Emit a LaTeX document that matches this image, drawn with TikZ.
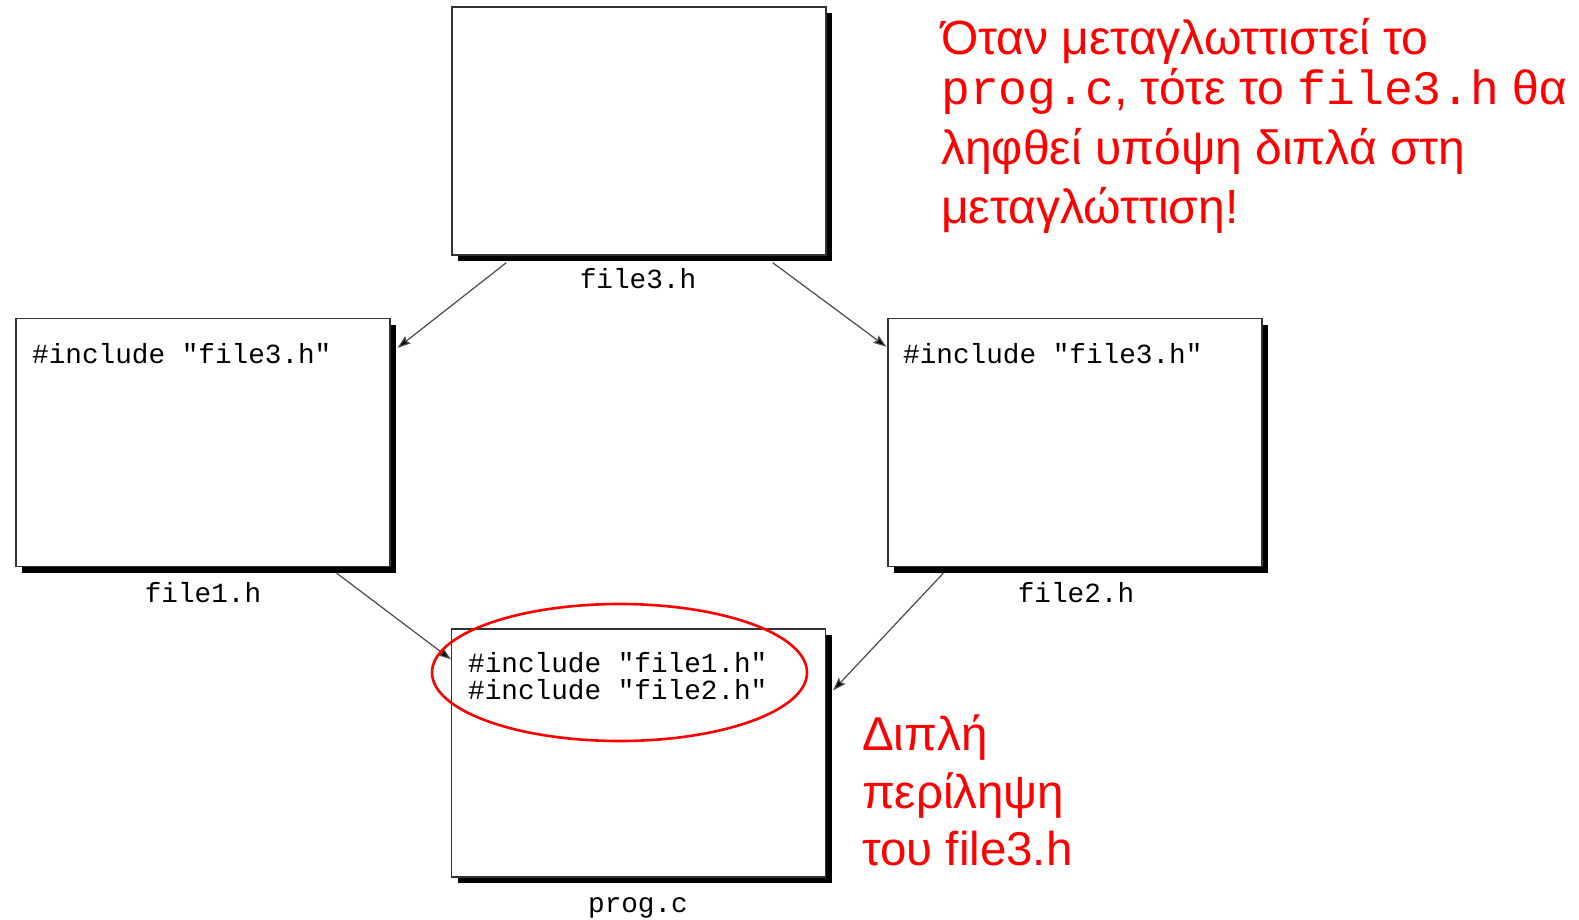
\documentclass[tikz,border=0pt]{standalone}
\usepackage{fontspec}
\setmainfont{Liberation Sans}
\newfontfamily\monof{Liberation Mono}
\usetikzlibrary{shadows,shapes.geometric,arrows.meta}
\definecolor{boxline}{HTML}{333333}
\definecolor{arrline}{HTML}{4A4A4A}
\tikzset{
  filebox/.style={draw=boxline, line width=1.4pt, fill=white, minimum width=374pt, minimum height=248pt, inner sep=0pt,
    general shadow={fill=black, shadow xshift=6pt, shadow yshift=-6pt}},
  code/.style={font=\monof\fontsize{27.7}{28}\selectfont, anchor=base west, inner sep=0pt},
  fname/.style={font=\monof\fontsize{27.7}{28}\selectfont, anchor=base, inner sep=0pt},
  redtxt/.style={text=red, font=\fontsize{48}{56}\selectfont, anchor=base west, inner sep=0pt},
  redtxtb/.style={text=red, font=\fontsize{47.5}{56}\selectfont, anchor=base west, inner sep=0pt},
  arr/.style={draw=arrline, line width=1.2pt, -{Stealth[length=13pt,width=9pt,inset=2pt,fill=black]}},
  ring/.style={draw=red, line width=2.6pt, ellipse, minimum width=375pt, minimum height=137pt, inner sep=0pt}
}
\newcommand{\redmono}[1]{{\monof\fontsize{48}{56}\selectfont #1}}
\begin{document}
\begin{tikzpicture}[x=1pt,y=-1pt]
\useasboundingbox (0,0) rectangle (1579,920);
% boxes
\node[filebox] (f3) at (639,131) {};
\node[filebox] (f1) at (203,442.5) {};
\node[filebox] (f2) at (1075,442.5) {};
\node[filebox] (pc) at (638.5,753) {};
% box contents
\node[code] (c1) at (32,363) {\#include "file3.h"};
\node[code] (c2) at (903,363) {\#include "file3.h"};
\node[code] (p1) at (468,672) {\#include "file1.h"};
\node[code] (p2) at (468,699) {\#include "file2.h"};
% file names
\node[fname] (l3) at (638,288) {file3.h};
\node[fname] (l1) at (203,602) {file1.h};
\node[fname] (l2) at (1076,602) {file2.h};
\node[fname] (lp) at (638,912) {prog.c};
% connectors
\draw[arr] ([xshift=55pt,yshift=-7pt]f3.south west) -- ([xshift=7pt,yshift=-30pt]f1.north east);
\draw[arr] ([xshift=-54pt,yshift=-7pt]f3.south east) -- ([xshift=-1pt,yshift=-29pt]f2.north west);
\draw[arr] ([xshift=-54pt,yshift=-6pt]f1.south east) -- ([xshift=0pt,yshift=-31pt]pc.north west);
\draw[arr] ([xshift=56pt,yshift=-6pt]f2.south west) -- ([xshift=7pt,yshift=-62pt]pc.north east);
% red ellipse
\node[ring] (e) at (619.5,672.5) {};
% red annotations
\node[redtxt] (t1) at (941,55) {Όταν μεταγλωττιστεί το};
\node[redtxt] (t2) at (941,105) {\redmono{prog.c}, τότε το \redmono{file3.h} θα};
\node[redtxt] (t3) at (941,165) {ληφθεί υπόψη διπλά στη};
\node[redtxt] (t4) at (941,223) {μεταγλώττιση!};
\node[redtxtb] (d1) at (862,750) {Διπλή};
\node[redtxtb] (d2) at (862,808) {περίληψη};
\node[redtxtb] (d3) at (862,865) {του file3.h};
\end{tikzpicture}
\end{document}
